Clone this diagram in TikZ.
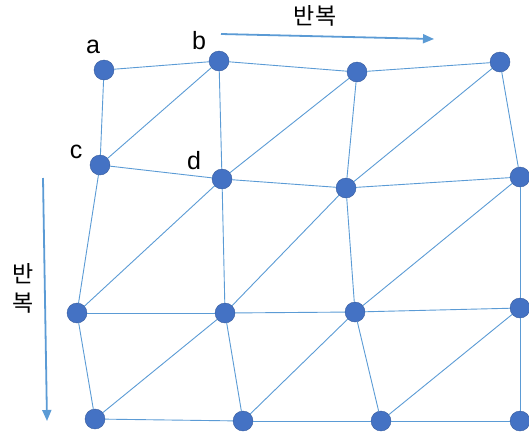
\documentclass[tikz,border=0pt]{standalone}
\usepackage{fontspec}
\setmainfont{Liberation Sans}
\newfontfamily\kofont{Noto Sans CJK KR}
\usepackage{tikz}
\usetikzlibrary{arrows.meta, positioning}

\definecolor{dotblue}{HTML}{4472C4}
\definecolor{edgeblue}{HTML}{5B9BD5}

\begin{document}
\begin{tikzpicture}[
  x=1pt, y=-1pt,
  vertex/.style={circle, fill=dotblue, draw=dotblue!80!black, line width=0.4pt, minimum width=19pt, minimum height=20pt, inner sep=0pt},
  mesh/.style={draw=edgeblue, line width=0.9pt},
  sweep/.style={draw=edgeblue, line width=1.8pt, -{Triangle[length=11pt, width=9pt]}},
  tag/.style={font=\fontsize{25}{25}\selectfont, inner sep=0pt},
  kotag/.style={font=\kofont\fontsize{23}{23}\selectfont, inner sep=0pt}
  ]
  \useasboundingbox (0,0) rectangle (529,432);

  % points of the mesh, row by row
  \node[vertex] (a)   at (104,70)  {};
  \node[vertex] (b)   at (219,61)  {};
  \node[vertex] (n13) at (357,72)  {};
  \node[vertex] (n14) at (500,62)  {};

  \node[vertex] (c)   at (100,165) {};
  \node[vertex] (d)   at (222,179) {};
  \node[vertex] (n23) at (346,188) {};
  \node[vertex] (n24) at (520,177) {};

  \node[vertex] (n31) at (77,313)  {};
  \node[vertex] (n32) at (225,313) {};
  \node[vertex] (n33) at (355,312) {};
  \node[vertex] (n34) at (520,308) {};

  \node[vertex] (n41) at (95,419)  {};
  \node[vertex] (n42) at (243,421) {};
  \node[vertex] (n43) at (381,421) {};
  \node[vertex] (n44) at (520,421) {};

  % edges
  \foreach \p/\q in {a/b, b/n13, n13/n14, c/d, d/n23, n23/n24,
                     n31/n32, n32/n33, n33/n34, n41/n42, n42/n43, n43/n44,
                     a/c, c/n31, n31/n41, b/d, d/n32, n32/n42,
                     n13/n23, n23/n33, n33/n43, n14/n24, n24/n34, n34/n44,
                     c/b, d/n13, n23/n14, n31/d, n32/n23, n33/n24,
                     n41/n32, n42/n33, n43/n34}
    \draw[mesh] (\p) -- (\q);

  % labels
  \node[tag] (la) at (93,47)  {a};
  \node[tag] (lb) at (199,41) {b};
  \node[tag] (lc) at (76,152) {c};
  \node[tag] (ld) at (194,161) {d};

  % sweep directions
  \coordinate (hs) at (221,34);
  \coordinate (he) at (434,39);
  \draw[sweep] (hs) -- (he);
  \node[kotag] (hrep) at (315,16) {반복};

  \coordinate (vs) at (43,178);
  \coordinate (ve) at (47,421);
  \draw[sweep] (vs) -- (ve);
  \node[kotag] (vban) at (23,274) {반};
  \node[kotag] (vbok) at (23,303) {복};

\end{tikzpicture}
\end{document}
